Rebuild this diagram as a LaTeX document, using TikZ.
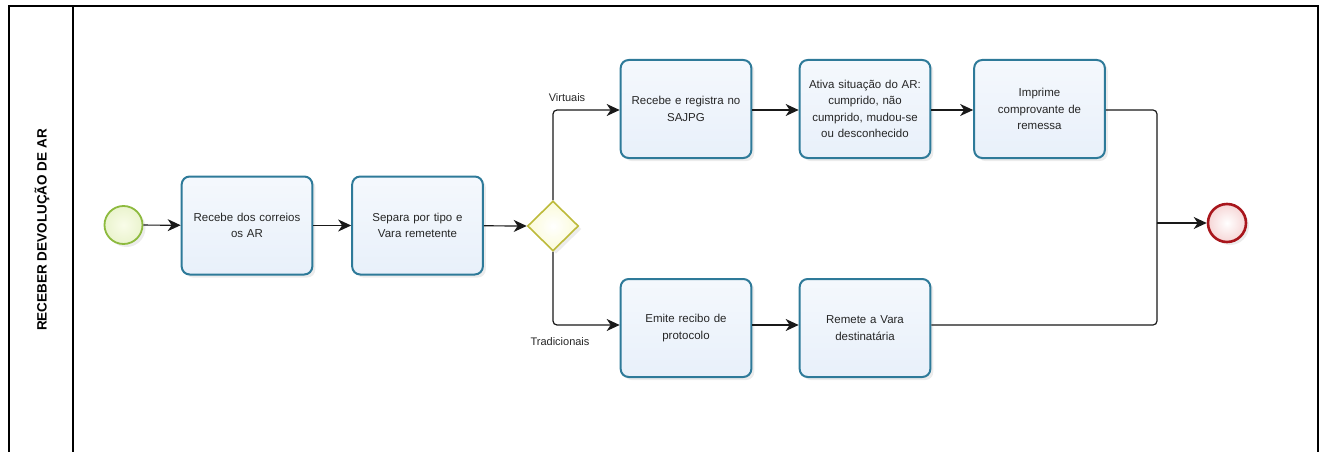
\documentclass[tikz,border=0pt]{standalone}
\usepackage{fontspec}
\setmainfont{Liberation Sans}
\usetikzlibrary{shadows,arrows.meta,shapes.geometric}
\definecolor{boxline}{HTML}{2E7A99}
\definecolor{boxfill}{HTML}{E8F0FA}
\definecolor{startline}{HTML}{8DBA3E}
\definecolor{startfill}{HTML}{F0F8C8}
\definecolor{endline}{HTML}{A8161C}
\definecolor{endfill}{HTML}{F6D6D6}
\definecolor{gateline}{HTML}{BDBA3A}
\definecolor{gatefill}{HTML}{FBFBD8}
\tikzset{
  task/.style={draw=boxline, line width=2pt, rounded corners=8pt,
    top color=boxfill!45, bottom color=boxfill, minimum width=128pt, minimum height=98pt,
    align=center, text width=124pt, font=\fontsize{11.5}{16.5}\selectfont, text=black!85,
    drop shadow={shadow xshift=3pt, shadow yshift=-3pt, opacity=0.15}},
  startev/.style={circle, draw=startline, line width=1.8pt, inner color=white!60!startfill, outer color=startfill!80!startline!60, minimum size=38pt,
    drop shadow={shadow xshift=3pt, shadow yshift=-3pt, opacity=0.15}},
  endev/.style={circle, draw=endline, line width=2.6pt, inner color=white, outer color=endfill, minimum size=38pt,
    drop shadow={shadow xshift=3pt, shadow yshift=-3pt, opacity=0.15}},
  gateway/.style={diamond, draw=gateline, line width=1.6pt, inner color=white, outer color=gatefill, minimum width=51pt, minimum height=50pt, inner sep=0pt,
    drop shadow={shadow xshift=3pt, shadow yshift=-3pt, opacity=0.15}},
  flow/.style={line width=1.2pt, black!90, -{Stealth[length=13pt,width=12pt,inset=4pt]}},
  plain/.style={line width=1.2pt, black!90},
  lbl/.style={font=\fontsize{11}{13}\selectfont, text=black!85},
}
\begin{document}
\begin{tikzpicture}[x=1pt,y=-1pt]
\useasboundingbox (0,0) rectangle (1323,452);
% pool frame
\draw[line width=1.2pt] (9,460) -- (9,6) -- (1318,6) -- (1318,460);
\draw[line width=1.2pt] (73,6) -- (73,460);
\node[rotate=90, font=\bfseries\fontsize{13.5}{15}\selectfont] (lane) at (42,230) {RECEBER DEVOLUÇÃO DE AR};
% nodes
\node[startev] (start) at (123.5,225) {};
\node[task] (t1) at (247,225.5) {Recebe dos correios\\os AR};
\node[task] (t2) at (417.5,225.5) {Separa por tipo e\\Vara remetente};
\node[gateway] (gw) at (553,226) {};
\node[task] (t3) at (686,109) {Recebe e registra no\\SAJPG};
\node[task] (t4) at (865,109) {Ativa situação do AR:\\cumprido, não\\cumprido, mudou-se\\ou desconhecido};
\node[task] (t5) at (1039.5,109) {Imprime\\comprovante de\\remessa};
\node[task] (t6) at (686,328) {Emite recibo de\\protocolo};
\node[task] (t7) at (865,328) {Remete a Vara\\destinatária};
\node[endev] (end) at (1227,223) {};
% coordinates
\coordinate (gtop) at (553,110);
\coordinate (gbot) at (553,325);
\coordinate (mtop) at (1157,110);
\coordinate (mbot) at (1157,325);
\coordinate (mmid) at (1157,223);
% connectors
\draw[flow] (start) -- (t1);
\draw[flow] (t1) -- (t2);
\draw[flow] (t2) -- (gw.west);
\draw[flow, rounded corners=4pt] (gw.north) -- (gtop) -- (t3.west |- gtop);
\draw[flow, rounded corners=4pt] (gw.south) -- (gbot) -- (t6.west |- gbot);
\draw[flow] (t3.east |- 0,110) -- (t4.west |- 0,110);
\draw[flow] (t4.east |- 0,110) -- (t5.west |- 0,110);
\draw[flow] (t6.east |- 0,325) -- (t7.west |- 0,325);
\draw[plain, rounded corners=4pt] (t5.east |- mtop) -- (mtop) -- (mmid);
\draw[plain, rounded corners=4pt] (t7.east |- mbot) -- (mbot) -- (mmid);
\draw[flow] (mmid) -- (end.west);
% labels
\node[lbl] (lv) at (567,98) {Virtuais};
\node[lbl] (lt) at (560,342) {Tradicionais};
\end{tikzpicture}
\end{document}
